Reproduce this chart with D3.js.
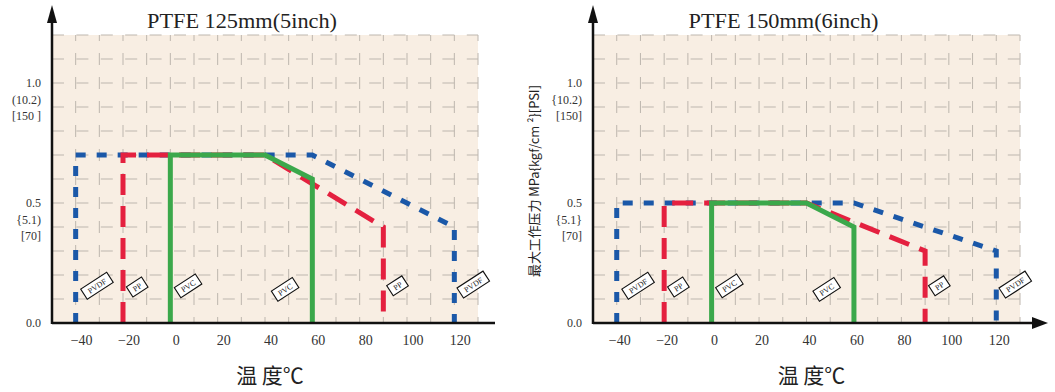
<!DOCTYPE html>
<html><head><meta charset="utf-8">
<script src="https://cdn.jsdelivr.net/npm/d3@7"></script>
<style>body{margin:0;background:#fff}svg{display:block}</style>
</head><body>
<svg id="c" width="1055" height="392"></svg>
<script>
// ---- data ----
const materials = ["PVDF", "PP", "PVC"];
const xTicks = [-40, -20, 0, 20, 40, 60, 80, 100, 120];
const yTicks = [0, 0.5, 1.0];
const titles = ["PTFE 125mm(5inch)", "PTFE 150mm(6inch)"];
const yLabelsLeft = [["0.0"], ["0.5", "{5.1)", "[70]"], ["1.0", "(10.2)", "[150 ]"]];
const yLabelsRight = [["0.0"], ["0.5", "{5.1}", "[70]"], ["1.0", "{10.2)", "[150]"]];
// temperature / pressure points per material
const pvdf125 = [[-40, 0], [-40, 0.7], [60, 0.7], [120, 0.4], [120, 0]];
const pp125 = [[-20, 0], [-20, 0.7], [40, 0.7], [90, 0.4], [90, 0]];
const pvc125 = [[0, 0], [0, 0.7], [40, 0.7], [60, 0.6], [60, 0]];
const pvdf150 = [[-40, 0], [-40, 0.5], [60, 0.5], [120, 0.3], [120, 0]];
const pp150 = [[-20, 0], [-20, 0.5], [40, 0.5], [90, 0.3], [90, 0]];
const pvc150 = [[0, 0], [0, 0.5], [40, 0.5], [60, 0.4], [60, 0]];
// label tag anchors (temperature, pressure)
const tagNames = ["PVDF", "PP", "PVC", "PVC", "PP", "PVDF"];
const tagT = [-31, -14, 7.5, 48.5, 96, 128];
const tagP = [0.155, 0.15, 0.155, 0.14, 0.155, 0.16];
const xTitle = "温 度℃";
const yTitle = "最大工作压力 MPa{kgf/cm ²}[PSI]";

const colors = {PVDF: "#1b58a8", PP: "#e4203f", PVC: "#3ba84b"};
const dashes = {PVDF: "10,11", PP: "21,11", PVC: null};
const tagW = {PVDF: 31, PP: 18, PVC: 25};

const svg = d3.select("#c");
const serif = "'Liberation Serif','DejaVu Serif',serif";
const cjk = "'Noto Sans CJK SC','Noto Sans',sans-serif";

function drawChart(opt) {
  const x = d3.scaleLinear().domain([-50, 130]).range([opt.x0, opt.x1]);
  const y = d3.scaleLinear().domain([0, 1.2]).range([323, 35]);
  const g = svg.append("g");
  g.append("rect").attr("x", x(-50)).attr("y", y(1.2))
    .attr("width", x(130) - x(-50)).attr("height", y(0) - y(1.2)).attr("fill", "#f8eee3");
  const gridX = d3.range(-40, 131, 10);
  const gridY = d3.range(1, 13).map(d => d / 10);
  g.selectAll(".gv").data(gridX).join("line")
    .attr("x1", d => x(d)).attr("x2", d => x(d)).attr("y1", y(1.2)).attr("y2", y(0))
    .attr("stroke", "#bdb6ae").attr("stroke-width", 1).attr("stroke-dasharray", "12,12").attr("stroke-dashoffset", 6);
  g.selectAll(".gh").data(gridY).join("line")
    .attr("x1", x(-50)).attr("x2", x(130)).attr("y1", d => y(d)).attr("y2", d => y(d))
    .attr("stroke", "#bdb6ae").attr("stroke-width", 1).attr("stroke-dasharray", "12,12.4");

  const line = d3.line().x(d => x(d[0])).y(d => y(d[1]));
  opt.series.forEach((s, i) => {
    const m = materials[i];
    g.append("path").attr("d", line(s)).attr("fill", "none")
      .attr("stroke", colors[m]).attr("stroke-width", 5)
      .attr("stroke-dasharray", dashes[m]).attr("stroke-linejoin", "miter");
  });

  // tags
  tagNames.forEach((n, i) => {
    const tg = g.append("g").attr("transform", `translate(${x(tagT[i])},${y(tagP[i])}) rotate(-33)`);
    tg.append("rect").attr("x", -tagW[n] / 2).attr("y", -6).attr("width", tagW[n]).attr("height", 12)
      .attr("fill", "#fff").attr("stroke", "#111").attr("stroke-width", 1.1);
    tg.append("text").attr("text-anchor", "middle").attr("y", 3).attr("font-family", serif)
      .attr("font-size", 8).attr("fill", "#222").text(n);
  });

  // axes
  g.append("line").attr("x1", x(-50)).attr("x2", opt.xEnd).attr("y1", y(0)).attr("y2", y(0))
    .attr("stroke", "#111").attr("stroke-width", 2.5);
  g.append("line").attr("x1", x(-50)).attr("x2", x(-50)).attr("y1", y(0) + 1).attr("y2", 18)
    .attr("stroke", "#111").attr("stroke-width", 2.5);
  g.append("path").attr("d", `M${x(-50)},5 L${x(-50) - 5},23 L${x(-50) + 5},23 Z`).attr("fill", "#111");
  if (opt.xArrow) {
    g.append("path").attr("d", `M${opt.xEnd + 13},${y(0)} L${opt.xEnd - 3},${y(0) - 6} L${opt.xEnd - 3},${y(0) + 6} Z`).attr("fill", "#111");
  }

  g.selectAll(".xt").data(xTicks).join("text")
    .attr("x", d => x(d) + opt.tickDx).attr("y", 345).attr("text-anchor", "middle")
    .attr("font-family", serif).attr("font-size", 14).attr("fill", "#333")
    .text(d => d < 0 ? "\u2212" + Math.abs(d) : d);

  yTicks.forEach((t, i) => {
    opt.yLabels[i].forEach((s, j) => {
      g.append("text").attr("x", opt.yLabelX).attr("y", y(t) + 4 + j * 16.5)
        .attr("text-anchor", "end").attr("font-family", serif).attr("font-size", 12).attr("fill", "#333").text(s);
    });
  });

  g.append("text").attr("x", (x(-50) + x(130)) / 2 - 23).attr("y", 28).attr("text-anchor", "middle")
    .attr("font-family", serif).attr("font-size", 22).attr("fill", "#222")
    .attr("textLength", 190).attr("lengthAdjust", "spacingAndGlyphs").text(opt.title);
  g.append("text").attr("x", (x(-50) + x(130)) / 2 + 5).attr("y", 383).attr("text-anchor", "middle")
    .attr("font-family", cjk).attr("font-size", 21).attr("fill", "#222").text(xTitle);
  return {x, y};
}

drawChart({x0: 52, x1: 478, xEnd: 495, xArrow: false, tickDx: 6, yLabelX: 41,
  series: [pvdf125, pp125, pvc125], yLabels: yLabelsLeft, title: titles[0]});
drawChart({x0: 593, x1: 1020, xEnd: 1035, xArrow: true, tickDx: 3, yLabelX: 582,
  series: [pvdf150, pp150, pvc150], yLabels: yLabelsRight, title: titles[1]});

svg.append("text").attr("transform", "translate(539,181) rotate(-90)").attr("text-anchor", "middle")
  .attr("font-family", cjk).attr("font-size", 13).attr("fill", "#222")
  .attr("textLength", 192).attr("lengthAdjust", "spacingAndGlyphs").text(yTitle);
</script>
</body></html>
